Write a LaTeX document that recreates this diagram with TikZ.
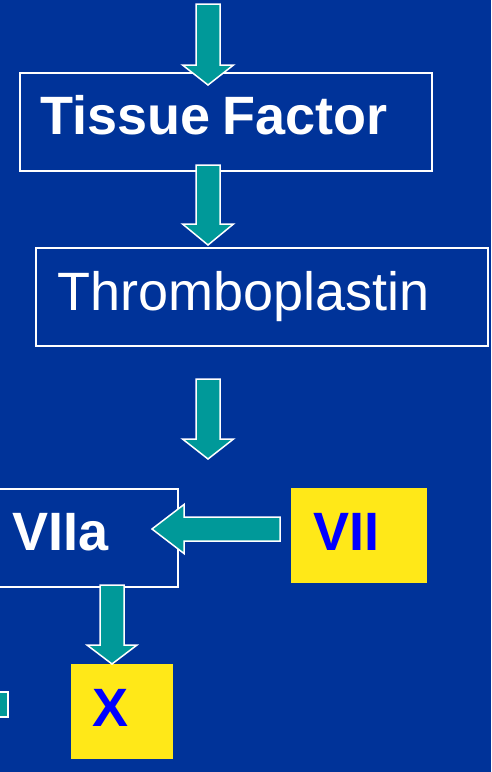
\documentclass[tikz,border=0pt]{standalone}
\usepackage{fontspec}
\setmainfont{Liberation Sans}
\usetikzlibrary{calc}
\definecolor{bgblue}{RGB}{0,51,153}
\definecolor{arrteal}{RGB}{0,153,153}
\definecolor{boxyellow}{RGB}{255,232,24}
\definecolor{txtblue}{RGB}{0,0,255}
\tikzset{
  bluebox/.style={draw=white, line width=1.5pt, fill=bgblue, inner sep=0pt, outer sep=0pt},
  yellowbox/.style={fill=boxyellow, inner sep=0pt, outer sep=0pt},
  barrow/.style={fill=arrteal, draw=white, line width=1.5pt, line join=miter},
  whitelbl/.style={text=white, inner sep=0pt, anchor=base west, font=\fontsize{54}{60}\selectfont},
  whitebold/.style={whitelbl, font=\fontsize{54}{60}\selectfont\bfseries},
  bluelbl/.style={text=txtblue, inner sep=0pt, anchor=base west, font=\fontsize{54}{60}\selectfont\bfseries},
}
% #1 start, #2 tip, #3 head length, #4 head half width
\newcommand\blockarrow[4]{%
  \coordinate (#1-h) at ($(#2)!#3!(#1)$);
  \filldraw[barrow] ($(#1)!12pt!90:(#2)$) -- ($(#1-h)!12pt!90:(#2)$) -- ($(#1-h)!#4!90:(#2)$)
     -- (#2) -- ($(#1-h)!#4!-90:(#2)$) -- ($(#1-h)!12pt!-90:(#2)$) -- ($(#1)!12pt!-90:(#2)$) -- cycle;
}
\begin{document}
\begin{tikzpicture}[x=1pt, y=-1pt]
\useasboundingbox (0,0) rectangle (491,772);
\clip (0,0) rectangle (491,772);
\fill[bgblue] (0,0) rectangle (491,772);

% boxes
\node[bluebox, minimum width=412pt, minimum height=98pt] (tf) at (226,122) {};
\node[bluebox, minimum width=452pt, minimum height=98pt] (tp) at (262,297) {};
\node[bluebox, minimum width=198pt, minimum height=98pt] (v7a) at (79,538) {};
\node[yellowbox, minimum width=136pt, minimum height=95pt] (v7) at (359,535.5) {};
\node[yellowbox, minimum width=102pt, minimum height=95pt] (fx) at (122,711.5) {};

% labels
\node[whitebold] (ttf) at (40,134) {Tissue\hspace{-3pt} Factor};
\node[whitelbl] (ttp) at (57,310) {Thromboplastin};
\node[whitebold] (tv7a) at (12.5,550) {VIIa};
\node[bluelbl] (tv7) at (313,550) {VII};
\node[bluelbl] (tfx) at (92,726) {X};

% arrow end points
\coordinate (a1s) at (208,4);   \coordinate (a1e) at (208,85);
\coordinate (a2s) at (208,165); \coordinate (a2e) at (208,245);
\coordinate (a3s) at (208,379); \coordinate (a3e) at (208,459);
\coordinate (a4s) at (280,529); \coordinate (a4e) at (152,529);
\coordinate (a5s) at (112,585); \coordinate (a5e) at (112,664);

\blockarrow{a1s}{a1e}{20pt}{25.5pt}
\blockarrow{a2s}{a2e}{21pt}{25.5pt}
\blockarrow{a3s}{a3e}{20pt}{25.5pt}
\blockarrow{a4s}{a4e}{32pt}{24.5pt}
\blockarrow{a5s}{a5e}{19pt}{25pt}

% partial arrow shaft at the left edge
\filldraw[barrow] (-20,692) rectangle (8,717);
\end{tikzpicture}
\end{document}
